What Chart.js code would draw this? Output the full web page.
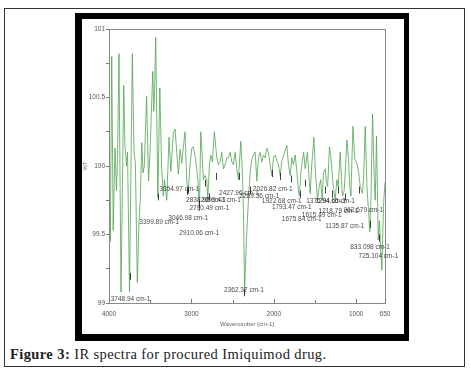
<!DOCTYPE html>
<html>
<head>
<meta charset="utf-8">
<script src="https://cdn.jsdelivr.net/npm/chart.js@4.4.1/dist/chart.umd.min.js"></script>
<style>
  body { margin: 0; background: #fff; width: 471px; height: 373px; position: relative; overflow: hidden; }
  #outer { position: absolute; left: 4px; top: 8px; width: 461px; height: 359px; border: 1px solid #333; box-sizing: border-box; }
  #frame { position: absolute; left: 75px; top: 13px; width: 334px; height: 328px; background: #000; }
  #inner { position: absolute; left: 82px; top: 19px; width: 322px; height: 315px; background: #fff; }
  #chart { position: absolute; left: 0; top: 0; }
  #caption { position: absolute; left: 10px; top: 346px; font-family: "Liberation Serif", "DejaVu Serif", serif; font-size: 14.5px; letter-spacing: 0.4px; color: #222; white-space: nowrap; }
</style>
</head>
<body>
<div id="outer"></div>
<div id="frame"></div>
<div id="inner"><canvas id="chart" width="322" height="315"></canvas></div>
<div id="caption"><b>Figure 3:</b> IR spectra for procured Imiquimod drug.</div>
<script>
// spectrum: wavenumber (cm-1) and %T
var wavenumbers = [4000, 3984, 3967, 3949, 3927, 3909, 3897, 3879, 3854, 3821, 3806, 3787, 3775, 3751, 3717, 3696, 3680, 3656, 3636, 3620,
  3603, 3587, 3571, 3544, 3520, 3502, 3469, 3457, 3447, 3433, 3407, 3383, 3362, 3340, 3326, 3299, 3271, 3250, 3219, 3198,
  3178, 3158, 3137, 3117, 3097, 3077, 3056, 3037, 3016, 2995, 2976, 2955, 2935, 2919, 2903, 2886, 2867, 2854, 2834, 2813,
  2801, 2781, 2764, 2745, 2721, 2692, 2672, 2651, 2631, 2611, 2591, 2570, 2551, 2530, 2509, 2490, 2469, 2449, 2429, 2400,
  2381, 2368, 2354, 2339, 2327, 2308, 2287, 2266, 2247, 2226, 2205, 2186, 2166, 2145, 2125, 2105, 2084, 2065, 2044, 2023,
  2004, 1983, 1963, 1943, 1922, 1901, 1874, 1841, 1822, 1801, 1780, 1761, 1740, 1720, 1700, 1688, 1671, 1652, 1637, 1619,
  1591, 1576, 1558, 1540, 1513, 1494, 1469, 1449, 1430, 1412, 1397, 1376, 1360, 1346, 1324, 1303, 1285, 1267, 1254, 1234,
  1218, 1194, 1178, 1166, 1145, 1112, 1093, 1078, 1064, 1039, 1017, 991, 969, 951, 923, 908, 890, 869, 853, 835,
  821, 801, 781, 768, 753, 732, 716, 704, 687, 675, 665, 650];
var transmittance = [100.05, 99.45, 100.80, 99.53, 100.13, 99.82, 100.05, 100.82, 99.08, 100.59, 100.15, 100.00, 100.10, 99.08, 100.82, 100.10, 100.02, 99.15, 99.60, 99.75,
  100.17, 99.95, 100.00, 100.51, 99.89, 100.10, 100.69, 100.40, 100.55, 100.94, 99.77, 100.57, 100.00, 99.78, 99.90, 99.75, 100.21, 99.96, 100.24, 100.27,
  100.10, 99.94, 100.12, 100.02, 100.14, 100.25, 99.89, 99.81, 100.02, 100.13, 100.14, 100.07, 99.98, 99.88, 99.67, 100.25, 100.05, 99.90, 99.93, 99.90,
  99.76, 100.01, 100.08, 100.03, 100.25, 100.06, 100.01, 100.03, 100.10, 99.98, 100.01, 100.06, 100.06, 100.10, 100.03, 100.01, 100.10, 99.98, 99.90, 100.18,
  99.95, 99.67, 99.07, 99.35, 99.52, 99.75, 99.95, 100.05, 100.08, 100.10, 99.89, 100.06, 100.10, 100.03, 100.08, 100.06, 100.13, 100.10, 100.01, 99.93,
  100.06, 100.08, 100.04, 100.01, 99.93, 100.04, 100.09, 100.15, 100.01, 99.93, 100.06, 100.01, 100.08, 99.96, 99.81, 99.78, 99.95, 100.05, 100.10, 99.98,
  100.10, 99.95, 99.80, 100.00, 100.21, 99.95, 99.75, 99.85, 99.90, 99.75, 99.95, 99.98, 99.88, 99.85, 100.14, 100.04, 99.90, 99.80, 99.76, 99.90,
  99.85, 100.10, 99.90, 99.78, 99.82, 100.19, 100.05, 99.85, 99.78, 100.29, 100.05, 100.02, 99.95, 99.85, 99.80, 99.95, 100.29, 99.85, 99.70, 99.52,
  99.75, 100.38, 99.90, 99.75, 100.22, 99.46, 99.60, 99.40, 99.24, 99.55, 99.75, 99.88];

// picked peaks
var peakNames = ["3748.94 cm-1", "3399.89 cm-1", "3054.97 cm-1", "3046.98 cm-1", "2910.06 cm-1", "2838.98 cm-1", "2699.43 cm-1", "2790.49 cm-1",
  "2427.96 cm-1", "2289.36 cm-1", "2026.82 cm-1", "1922.68 cm-1", "1793.47 cm-1", "1675.84 cm-1", "1615.49 cm-1", "1376.94 cm-1",
  "1294.66 cm-1", "1218.79 cm-1", "962.679 cm-1", "1135.87 cm-1", "833.098 cm-1", "725.104 cm-1", "2362.37 cm-1"];
var peakWn = [3748.94, 3399.89, 3054.97, 3046.98, 2910.06, 2838.98, 2699.43, 2790.49, 2427.96, 2289.36, 2026.82, 1922.68, 1793.47, 1675.84,
  1615.49, 1376.94, 1294.66, 1218.79, 962.679, 1135.87, 833.098, 725.104, 2362.37];
var peakT = [99.22, 99.80, 99.84, 99.85, 99.75, 99.90, 99.95, 99.80, 99.95, 99.85, 99.97, 99.95, 99.93, 99.82, 99.90, 99.85, 99.82, 99.85,
  99.85, 99.80, 99.60, 99.50, 99.10];
// where each peak label sits (left edge wavenumber, %T of text middle)
var labelWn = [3979, 3632, 3389, 3280, 3146, 3065, 2882, 3024, 2664, 2417, 2254, 2145, 2023, 1902, 1659, 1607, 1497, 1457, 1153, 1376, 1072, 971, 2603];
var labelT = [99.03, 99.59, 99.83, 99.62, 99.51, 99.75, 99.75, 99.69, 99.80, 99.78, 99.83, 99.74, 99.70, 99.61, 99.64, 99.74, 99.74, 99.67, 99.68, 99.56, 99.41, 99.34, 99.09];

var xTicks = [4000, 3500, 3000, 2500, 2000, 1500, 1000, 650];
var xLabelled = [4000, 3000, 2000, 1000, 650];
var yTicks = [99, 99.25, 99.5, 99.75, 100, 100.25, 100.5, 100.75, 101];
var yLabelled = [99, 99.5, 100, 100.5, 101];

var points = [];
for (var i = 0; i < wavenumbers.length; i++) {
  points.push({ x: wavenumbers[i], y: transmittance[i] });
}

var tickFont = { family: "Liberation Sans", size: 6.5 };

// frame, inside ticks, peak marks and labels
var decor = {
  id: 'decor',
  afterDraw: function(chart) {
    var ctx = chart.ctx;
    var a = chart.chartArea;
    var xs = chart.scales.x, ys = chart.scales.y;
    ctx.save();
    ctx.strokeStyle = '#8a8a8a';
    ctx.lineWidth = 1;
    ctx.strokeRect(Math.round(a.left) + 0.5, Math.round(a.top) + 0.5, Math.round(a.right - a.left), Math.round(a.bottom - a.top));
    // x ticks point up into the plot
    ctx.strokeStyle = '#777';
    xTicks.forEach(function(v) {
      var px = Math.round(xs.getPixelForValue(v)) + 0.5;
      var len = xLabelled.indexOf(v) >= 0 ? 4 : 3;
      ctx.beginPath();
      ctx.moveTo(px, a.bottom);
      ctx.lineTo(px, a.bottom - len);
      ctx.stroke();
    });
    // peak markers
    ctx.strokeStyle = 'rgba(30,30,30,0.85)';
    for (var i = 0; i < peakWn.length; i++) {
      var mx = Math.round(xs.getPixelForValue(peakWn[i])) + 0.5;
      var my = ys.getPixelForValue(peakT[i]);
      ctx.beginPath();
      ctx.moveTo(mx, my);
      ctx.lineTo(mx, my + 7);
      ctx.stroke();
    }
    // peak labels
    ctx.fillStyle = 'rgba(40,40,40,0.85)';
    ctx.font = '6.5px "Liberation Sans"';
    ctx.textBaseline = 'middle';
    ctx.textAlign = 'left';
    for (var j = 0; j < peakNames.length; j++) {
      ctx.fillText(peakNames[j], xs.getPixelForValue(labelWn[j]), ys.getPixelForValue(labelT[j]));
    }
    ctx.restore();
  }
};

var ctx = document.getElementById('chart').getContext('2d');
var chart = new Chart(ctx, {
  type: 'line',
  data: {
    datasets: [{
      data: points,
      borderColor: 'rgba(80,165,80,0.8)',
      borderWidth: 1,
      pointRadius: 0,
      tension: 0,
      fill: false
    }]
  },
  options: {
    responsive: false,
    animation: false,
    layout: { padding: { left: 0, right: 19, top: 10, bottom: 6 } },
    plugins: { legend: { display: false }, tooltip: { enabled: false } },
    scales: {
      x: {
        type: 'linear',
        reverse: true,
        min: 650,
        max: 4000,
        afterBuildTicks: function(axis) {
          axis.ticks = xTicks.map(function(v) { return { value: v }; });
        },
        afterFit: function(axis) { axis.height = 25; },
        grid: { display: false, drawTicks: false },
        border: { display: false },
        ticks: {
          autoSkip: false,
          maxRotation: 0,
          padding: 7,
          color: '#555',
          font: tickFont,
          callback: function(v) { return xLabelled.indexOf(v) >= 0 ? String(v) : ''; }
        },
        title: {
          display: true,
          text: 'Wavenumber [cm-1]',
          color: '#666',
          font: { family: "Liberation Sans", size: 6 },
          padding: { top: 0, bottom: 0 }
        }
      },
      y: {
        type: 'linear',
        min: 99,
        max: 101,
        afterBuildTicks: function(axis) {
          axis.ticks = yTicks.map(function(v) { return { value: v }; });
        },
        afterFit: function(axis) { axis.width = 27; },
        grid: { drawOnChartArea: false, drawTicks: true, tickLength: 3, color: '#777' },
        border: { display: false },
        ticks: {
          autoSkip: false,
          padding: 1,
          color: '#555',
          font: tickFont,
          callback: function(v) { return yLabelled.indexOf(v) >= 0 ? String(v) : ''; }
        },
        title: {
          display: true,
          text: '%T',
          color: '#666',
          font: { family: "Liberation Sans", size: 6 },
          padding: { top: 0, bottom: 0 }
        }
      }
    }
  },
  plugins: [decor]
});
</script>
</body>
</html>
